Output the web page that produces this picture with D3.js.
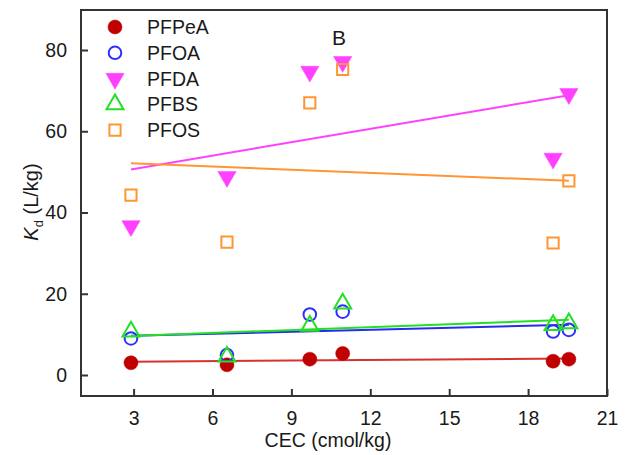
<!DOCTYPE html>
<html><head><meta charset="utf-8">
<script src="https://cdn.jsdelivr.net/npm/d3@7"></script>
<style>body{margin:0;background:#fff}svg{display:block}text{font-family:"Liberation Sans",Arial,sans-serif;fill:#1a1a1a}</style>
</head><body><svg id="c" width="626" height="455"></svg>
<script>
const cec = [2.9, 6.55, 9.7, 10.95, 18.95, 19.55];
const seriesNames = ["PFPeA", "PFOA", "PFDA", "PFBS", "PFOS"];
const PFPeA = [3.0, 2.5, 3.9, 5.3, 3.4, 3.9];
const PFOA  = [9.0, 4.9, 14.9, 15.6, 10.7, 11.1];
const PFDA  = [36.7, 48.8, 74.7, 77.1, 53.3, 69.2];
const PFBS  = [10.7, 4.5, 12.1, 17.6, 12.3, 12.7];
const PFOS  = [44.3, 32.7, 67.0, 75.2, 32.5, 47.8];
const xTicks = [3, 6, 9, 12, 15, 18, 21];
const yTicks = [0, 20, 40, 60, 80];

const styles = {
  PFPeA: {shape: d3.symbolCircle, size: 155, fill: "#c00000", stroke: "#c00000", line: "#d93030"},
  PFOA:  {shape: d3.symbolCircle, size: 125, fill: "none", stroke: "#2f2fff", line: "#2a2af0"},
  PFDA:  {shape: "down", size: 145, fill: "#ff40ff", stroke: "#ff40ff", line: "#ff40ff"},
  PFBS:  {shape: d3.symbolTriangle, size: 125, fill: "none", stroke: "#22e022", line: "#22e022"},
  PFOS:  {shape: d3.symbolSquare, size: 125, fill: "none", stroke: "#ff9533", line: "#ff9533"}
};
const dataBy = {PFPeA, PFOA, PFDA, PFBS, PFOS};

const svg = d3.select("#c");
const L = 81, R = 607, T = 10, B = 396;
const x = d3.scaleLinear().domain([1, 21]).range([L, R]);
const y = d3.scaleLinear().domain([-5.17, 89.85]).range([B, T]);

function sym(s) {
  if (s.shape === "down") return d3.symbol().type(d3.symbolTriangle).size(s.size)();
  return d3.symbol().type(s.shape).size(s.size)();
}
function rot(s) { return s.shape === "down" ? " rotate(180)" : ""; }

// regression lines
const g = svg.append("g");
seriesNames.forEach(n => {
  const ys = dataBy[n];
  const mx = d3.mean(cec), my = d3.mean(ys);
  const sxy = d3.sum(cec, (v, i) => (v - mx) * (ys[i] - my));
  const sxx = d3.sum(cec, v => (v - mx) ** 2);
  const b = sxy / sxx, a = my - b * mx;
  const [x0, x1] = d3.extent(cec);
  g.append("line").attr("x1", x(x0)).attr("x2", x(x1))
    .attr("y1", y(a + b * x0)).attr("y2", y(a + b * x1))
    .attr("stroke", styles[n].line).attr("stroke-width", 2);
});
// markers
seriesNames.forEach(n => {
  const s = styles[n];
  g.selectAll(null).data(dataBy[n]).join("path")
    .attr("d", sym(s))
    .attr("transform", (d, i) => `translate(${x(cec[i])},${y(d)})` + rot(s))
    .attr("fill", s.fill).attr("stroke", s.stroke).attr("stroke-width", s.fill === "none" ? 2 : 0.5);
});

// frame
svg.append("rect").attr("x", L).attr("y", T).attr("width", R - L).attr("height", B - T)
  .attr("fill", "none").attr("stroke", "#333").attr("stroke-width", 2);

// axes (inward ticks)
const xa = svg.append("g").attr("transform", `translate(0,${B})`)
  .call(d3.axisBottom(x).tickValues(xTicks).tickSizeInner(-7).tickSizeOuter(0).tickPadding(15));
const ya = svg.append("g").attr("transform", `translate(${L},0)`)
  .call(d3.axisLeft(y).tickValues(yTicks).tickSizeInner(-7).tickSizeOuter(0).tickPadding(14));
[xa, ya].forEach(a => {
  a.select(".domain").remove();
  a.selectAll(".tick line").attr("stroke", "#333").attr("stroke-width", 2);
  a.selectAll(".tick text").attr("font-size", 19.5).attr("fill", "#1a1a1a")
    .style("font-family", '"Liberation Sans",Arial,sans-serif');
});

// legend
const lg = svg.append("g");
seriesNames.forEach((n, i) => {
  const s = styles[n];
  const yy = 27 + i * 25.8;
  lg.append("path").attr("d", sym(s)).attr("transform", `translate(115,${yy})` + rot(s))
    .attr("fill", s.fill).attr("stroke", s.stroke).attr("stroke-width", s.fill === "none" ? 2 : 0.5);
  lg.append("text").attr("x", 147).attr("y", yy).attr("dy", "0.36em").attr("font-size", 19.5).text(n);
});

svg.append("text").attr("x", 339).attr("y", 45).attr("text-anchor", "middle").attr("font-size", 21).text("B");

svg.append("text").attr("x", 328).attr("y", 447).attr("text-anchor", "middle").attr("font-size", 19.5).text("CEC (cmol/kg)");

const yl = svg.append("text").attr("transform", "translate(38,202) rotate(-90)").attr("text-anchor", "middle").attr("font-size", 20);
yl.append("tspan").attr("font-style", "italic").text("K");
yl.append("tspan").attr("font-size", 13).attr("dy", 5).text("d");
yl.append("tspan").attr("dy", -5).text(" (L/kg)");
</script></body></html>
